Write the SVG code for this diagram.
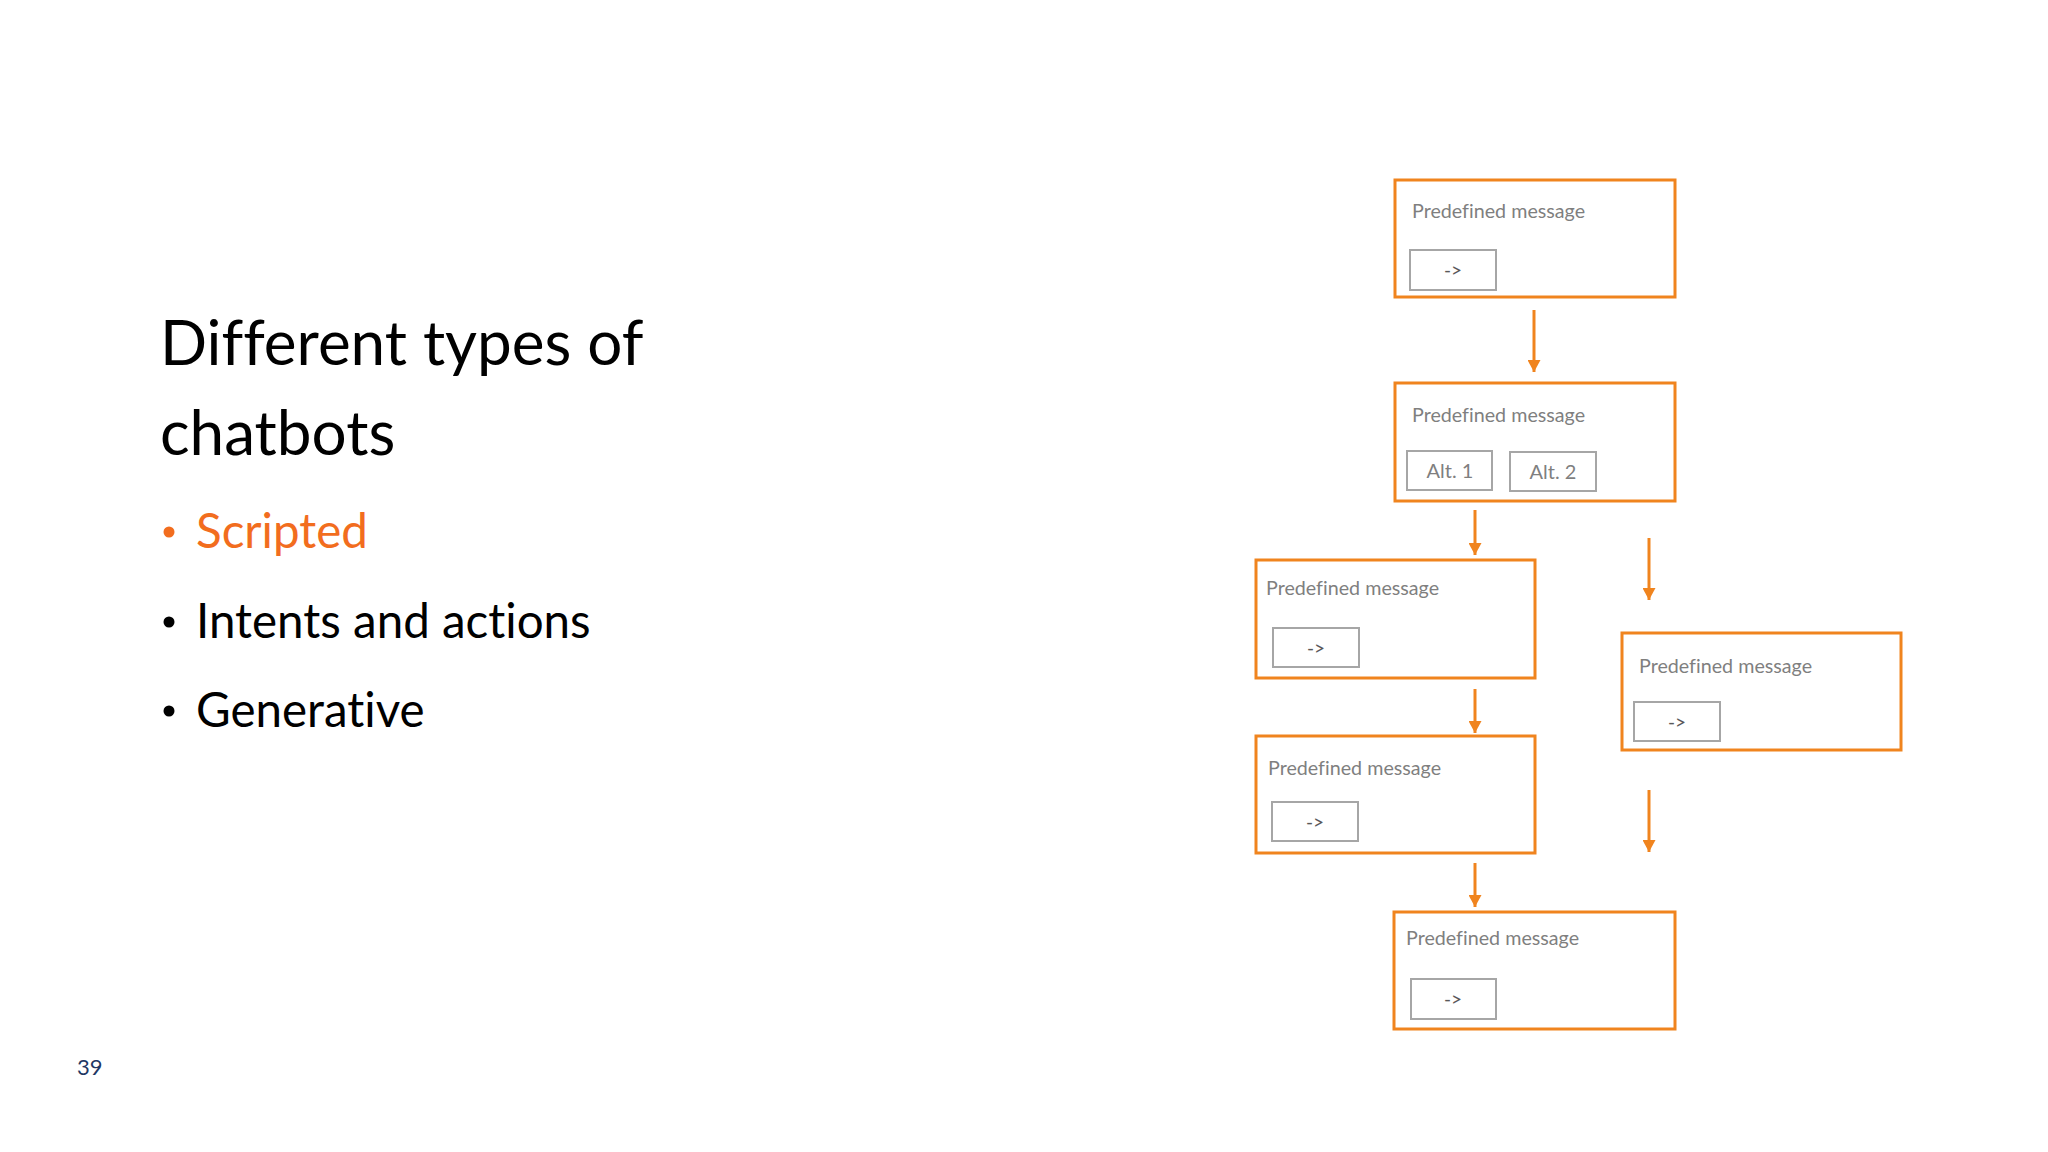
<svg xmlns="http://www.w3.org/2000/svg" width="2048" height="1152" viewBox="0 0 2048 1152">
<defs>
<style>
.t{font-family:Lato,"Open Sans","Liberation Sans",sans-serif;font-variant-ligatures:none;font-feature-settings:"liga" 0,"clig" 0;}
.title{font-size:62px;fill:#000;}
.bul{font-size:47.5px;fill:#000;}
.box{fill:#fff;stroke:#F0841E;stroke-width:3;}
.btn{fill:#fff;stroke:#A6A6A6;stroke-width:2;}
.lbl{font-size:19.7px;fill:#7F7F7F;}
.arr{font-size:19px;fill:#595959;text-anchor:middle;}
.alt{font-size:20px;fill:#7F7F7F;text-anchor:middle;}
.con{stroke:#F0841E;stroke-width:3;fill:none;marker-end:url(#ah);}
</style>
<marker id="ah" markerUnits="userSpaceOnUse" markerWidth="14" markerHeight="13" refX="12" refY="6.5" orient="auto">
<path d="M0,0 L12,6.5 L0,13 Z" fill="#F0841E"/>
</marker>
</defs>
<rect width="2048" height="1152" fill="#fff"/>
<g id="text-left">
<text class="t title" x="160" y="365">Different types of</text>
<text class="t title" x="160" y="455">chatbots</text>
<circle cx="169" cy="532" r="5.5" fill="#F26D1E"/>
<text class="t bul" x="196" y="548" style="fill:#F26D1E">Scripted</text>
<circle cx="169" cy="622" r="5.5" fill="#000"/>
<text class="t bul" x="196" y="638">Intents and actions</text>
<circle cx="169" cy="711" r="5.5" fill="#000"/>
<text class="t bul" x="196" y="727">Generative</text>
</g>
<text id="page-number" class="t" x="77" y="1075" font-size="22" fill="#1F3864">39</text>
<g id="connectors">
<line class="con" x1="1534" y1="310" x2="1534" y2="372"/>
<line class="con" x1="1475" y1="510" x2="1475" y2="555"/>
<line class="con" x1="1649" y1="538" x2="1649" y2="600"/>
<line class="con" x1="1475" y1="689" x2="1475" y2="733"/>
<line class="con" x1="1649" y1="790" x2="1649" y2="852"/>
<line class="con" x1="1475" y1="863" x2="1475" y2="907"/>
</g>
<g id="node1">
<rect class="box" x="1395" y="180" width="280" height="117"/>
<text class="t lbl" x="1412" y="218">Predefined message</text>
<rect class="btn" x="1410" y="250" width="86" height="40"/>
<text class="t arr" x="1453" y="277">-&gt;</text>
</g>
<g id="node2">
<rect class="box" x="1395" y="383" width="280" height="118"/>
<text class="t lbl" x="1412" y="422">Predefined message</text>
<rect class="btn" x="1407" y="451" width="85" height="39"/>
<text class="t alt" x="1450" y="478">Alt. 1</text>
<rect class="btn" x="1510" y="452" width="86" height="39"/>
<text class="t alt" x="1553" y="479">Alt. 2</text>
</g>
<g id="node3">
<rect class="box" x="1256" y="560" width="279" height="118"/>
<text class="t lbl" x="1266" y="595">Predefined message</text>
<rect class="btn" x="1273" y="628" width="86" height="39"/>
<text class="t arr" x="1316" y="655">-&gt;</text>
</g>
<g id="node4">
<rect class="box" x="1256" y="736" width="279" height="117"/>
<text class="t lbl" x="1268" y="775">Predefined message</text>
<rect class="btn" x="1272" y="802" width="86" height="39"/>
<text class="t arr" x="1315" y="829">-&gt;</text>
</g>
<g id="node5">
<rect class="box" x="1622" y="633" width="279" height="117"/>
<text class="t lbl" x="1639" y="673">Predefined message</text>
<rect class="btn" x="1634" y="702" width="86" height="39"/>
<text class="t arr" x="1677" y="729">-&gt;</text>
</g>
<g id="node6">
<rect class="box" x="1394" y="912" width="281" height="117"/>
<text class="t lbl" x="1406" y="945">Predefined message</text>
<rect class="btn" x="1411" y="979" width="85" height="40"/>
<text class="t arr" x="1453" y="1006">-&gt;</text>
</g>
</svg>
